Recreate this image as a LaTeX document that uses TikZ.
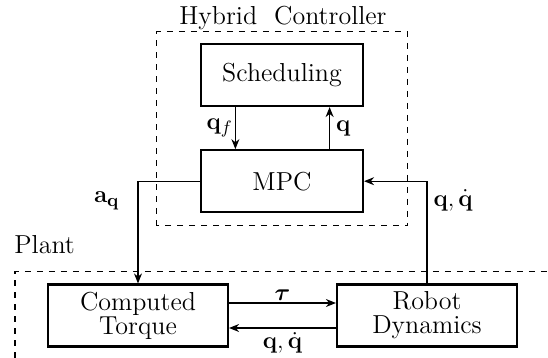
\documentclass[tikz,border=0pt]{standalone}
\usepackage{amsmath,bm}
\usetikzlibrary{arrows.meta, positioning, calc}
\tikzset{
  block/.style={
    rectangle, draw=black, line width=1.1pt, align=center,
    minimum width=81pt, minimum height=31pt, inner sep=2pt},
  region/.style={draw=black, dashed, line width=0.5pt},
  sig/.style   ={-{Stealth[length=5pt,width=4pt]}, draw=black, line width=0.6pt},
  wire/.style  ={draw=black, line width=0.6pt},
  lbl/.style   ={font=\fontsize{13}{15}\selectfont, inner sep=1pt},
}

\begin{document}
\begin{tikzpicture}[x=0.5pt, y=0.5pt, font=\fontsize{13}{15}\selectfont]
\useasboundingbox (0,0) rectangle (548,358);

% ---- hybrid controller ----
\node[block] (sched) at (282,283) {Scheduling};
\node[block, below=21pt of sched] (mpc) {MPC};
\draw[region] (157,132) rectangle (408,326);
\node[lbl, anchor=base] (hctitle) at (283,333) {Hybrid\ \ Controller};

\coordinate (qfout) at ($(sched.south west)!0.216!(sched.south east)$);
\coordinate (qin)   at ($(sched.south west)!0.790!(sched.south east)$);
\draw[sig] (qfout) -- node[lbl, left] {$\mathbf{q}_f$} (qfout |- mpc.north);
\draw[sig] (qin |- mpc.north) -- node[lbl, right=2pt] {$\mathbf{q}$} (qin);

% ---- plant ----
\node[block, minimum width=90pt] (ctorque) at (138,42.5) {Computed\\[-3pt]Torque};
\node[block, minimum width=90pt] (robot)   at (427,42.5) {Robot\\[-3pt]Dynamics};
\draw[region] (15,0) -- (15,86) -- (548,86);
\node[lbl, anchor=west] (plant) at (12,113) {Plant};

\coordinate (tauA) at ([yshift=6.25pt]ctorque.east);
\coordinate (qdA)  at ([yshift=-6.25pt]robot.west);
\draw[sig] (tauA) -- node[lbl, above] {$\bm{\tau}$} (tauA -| robot.west);
\draw[sig] (qdA) -- node[lbl, below=1pt] {$\mathbf{q},\dot{\mathbf{q}}$} (qdA -| ctorque.east);

% ---- loop between controller and plant ----
\coordinate (lcorner) at (mpc.west -| ctorque.north);
\coordinate (rcorner) at (mpc.east -| robot.north);
\draw[sig] (mpc.west) -- (lcorner)
  node[lbl, below left=4pt and 8pt] {$\mathbf{a}_{\mathbf{q}}$}
  -- (ctorque.north);
\draw[wire] (robot.north) -- (rcorner);
\draw[sig] (rcorner) -- node[lbl, pos=0, below right=3pt and 2pt] {$\mathbf{q},\dot{\mathbf{q}}$} (mpc.east);

\end{tikzpicture}
\end{document}
